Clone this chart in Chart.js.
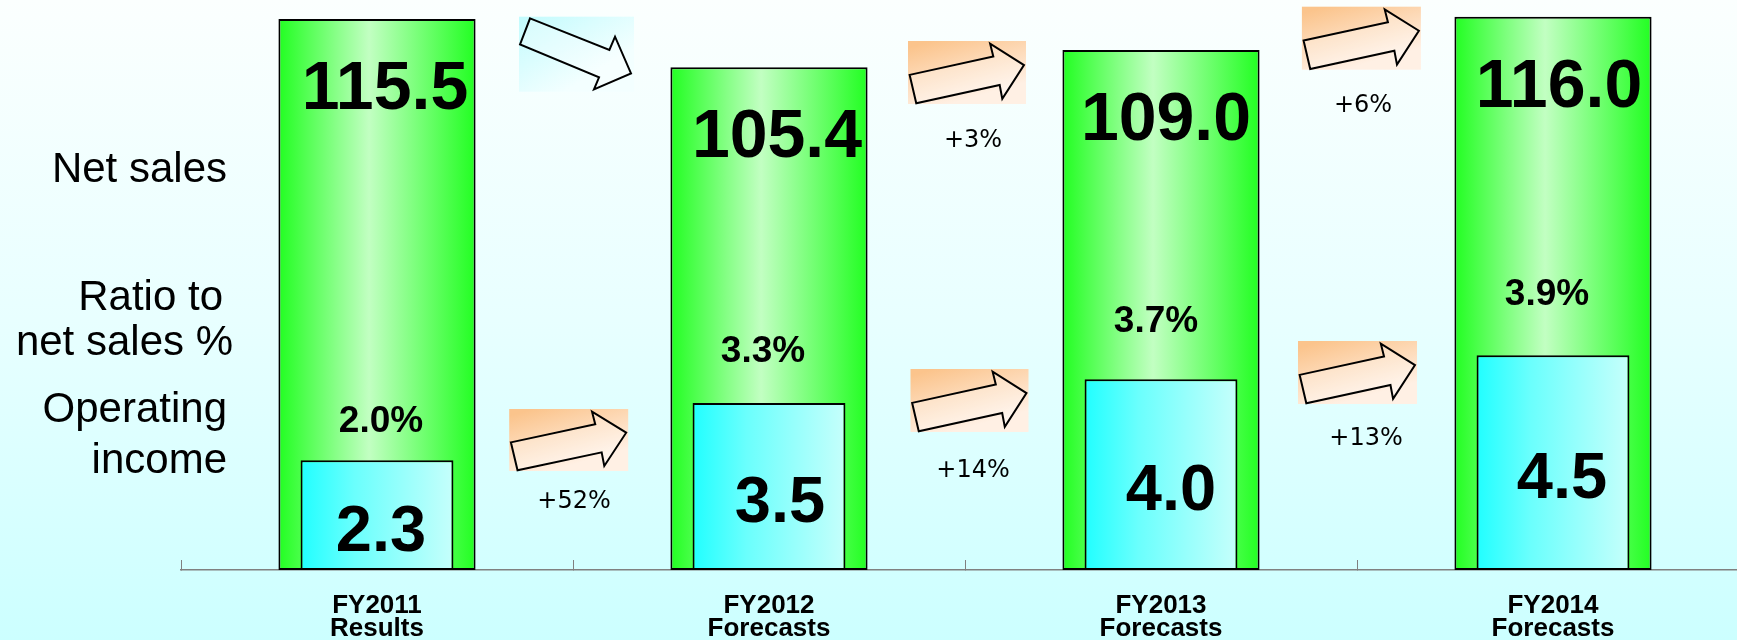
<!DOCTYPE html>
<html><head><meta charset="utf-8">
<script src="https://cdn.jsdelivr.net/npm/chart.js@4/dist/chart.umd.min.js"></script>
<style>
html,body{margin:0;padding:0;width:1737px;height:640px;overflow:hidden;}
body{background:linear-gradient(to bottom,#fbfffe 0%,#e8ffff 50%,#ccffff 100%);}
#wrap{position:absolute;left:0;top:0;width:1750px;height:640px;}
</style></head><body>
<div id="wrap"><canvas id="c" width="1750" height="640"></canvas></div>
<script>
// ---------- data ----------
const categories = [['FY2011','Results'],['FY2012','Forecasts'],['FY2013','Forecasts'],['FY2014','Forecasts']];
const netSales = [115.5, 105.4, 109.0, 116.0];
const operatingIncome = [2.3, 3.5, 4.0, 4.5];
const ratioLabels = ['2.0%', '3.3%', '3.7%', '3.9%'];
const salesChangeLabels = ['', '+3%', '+6%'];
const incomeChangeLabels = ['+52%', '+14%', '+13%'];
const salesArrowKinds = ['down', 'up', 'up'];
const rowLabels = ['Net sales', 'Ratio to', 'net sales %', 'Operating', 'income'];

// ---------- layout / style (not data) ----------
const FONT = '"Liberation Sans", Arial, sans-serif';
const LAYOUT = {
  rowLabels: [{x:227,y:182.3},{x:223,y:310},{x:233,y:355},{x:227,y:421.7},{x:227,y:473.3}],
  salesValue: {dx:[8,8,5,6], dy:90},
  incomeValue: {dx:[4,11,10,9], dy:35.5},
  ratio: {dx:[4,-6,-5,-6], y:[432,362,332,305]},
  salesArrows: [{dx:3.5,y:16.7,w:115,h:75},{dx:2,y:41,w:118,h:63},{dx:4.4,y:6.7,w:119,h:63}],
  salesChange: [{dx:0,y:0},{dx:8,y:146.7},{dx:6,y:111.7}],
  incomeArrows: [{dx:-4.3,y:409,w:119,h:62},{dx:4.5,y:369,w:118,h:63},{dx:0.5,y:341,w:119,h:63}],
  incomeChange: [{dx:1,y:508.3},{dx:8,y:476.7},{dx:9,y:445}]
};
const ARROW_SHAPES = {
  up:   [[0.014,0.538],[0.723,0.247],[0.696,0.043],[0.983,0.382],[0.799,0.919],[0.777,0.699],[0.070,0.989]],
  down: [[0.096,0.022],[0.786,0.444],[0.835,0.267],[0.974,0.756],[0.652,0.969],[0.696,0.809],[0.009,0.369]]
};
const SALES_PCT = 0.503, INCOME_PCT = 0.39;

function barGradient(c, pct, stops) {
  const chart = c.chart, xs = chart.scales && chart.scales.x;
  if (!xs || !chart.chartArea || c.dataIndex === undefined) return stops[0][1];
  const cx = xs.getPixelForValue(c.dataIndex);
  const w = xs.width / categories.length * pct;
  const g = chart.ctx.createLinearGradient(cx - w/2, 0, cx + w/2, 0);
  stops.forEach(s => g.addColorStop(s[0], s[1]));
  return g;
}

const overlay = {
  id: 'overlay',
  afterDatasetsDraw(chart) {
    const ctx = chart.ctx;
    const sMeta = chart.getDatasetMeta(1), iMeta = chart.getDatasetMeta(0);
    ctx.save();
    ctx.fillStyle = '#000';
    ctx.textAlign = 'center';
    ctx.textBaseline = 'alphabetic';
    ctx.font = 'bold 68px ' + FONT;
    sMeta.data.forEach((b, i) => {
      ctx.fillText(netSales[i].toFixed(1), b.x + LAYOUT.salesValue.dx[i], b.y + LAYOUT.salesValue.dy);
    });
    ctx.font = 'bold 65px ' + FONT;
    iMeta.data.forEach((b, i) => {
      ctx.fillText(operatingIncome[i].toFixed(1), b.x + LAYOUT.incomeValue.dx[i], (b.y + b.base)/2 + LAYOUT.incomeValue.dy);
    });
    ctx.font = 'bold 37px ' + FONT;
    sMeta.data.forEach((b, i) => {
      ctx.fillText(ratioLabels[i], b.x + LAYOUT.ratio.dx[i], LAYOUT.ratio.y[i]);
    });
    ctx.restore();
  },
  afterDraw(chart) {
    const ctx = chart.ctx, xs = chart.scales.x;
    ctx.save();
    ctx.fillStyle = '#000';
    ctx.textAlign = 'right';
    ctx.textBaseline = 'alphabetic';
    ctx.font = '42px ' + FONT;
    rowLabels.forEach((t, i) => ctx.fillText(t, LAYOUT.rowLabels[i].x, LAYOUT.rowLabels[i].y));

    const boundary = i => (xs.getPixelForValue(i) + xs.getPixelForValue(i + 1)) / 2;
    function drawArrow(kind, box, cx) {
      const x0 = cx - box.w/2, y0 = box.y;
      let g;
      if (kind === 'down') {
        g = ctx.createLinearGradient(x0, y0, x0 + box.w*0.4, y0 + box.h);
        g.addColorStop(0, '#c2fbfd'); g.addColorStop(1, '#f3ffff');
      } else {
        g = ctx.createLinearGradient(x0 + box.w*0.2, y0, x0 + box.w*0.35, y0 + box.h);
        g.addColorStop(0, '#fbc48c'); g.addColorStop(1, '#fff0e4');
      }
      ctx.fillStyle = g;
      ctx.fillRect(x0, y0, box.w, box.h);
      const pts = ARROW_SHAPES[kind];
      ctx.beginPath();
      pts.forEach((p, k) => {
        const px = x0 + p[0]*box.w, py = y0 + p[1]*box.h;
        k ? ctx.lineTo(px, py) : ctx.moveTo(px, py);
      });
      ctx.closePath();
      ctx.fillStyle = 'rgba(255,255,255,0.3)';
      ctx.fill();
      ctx.lineWidth = 2;
      ctx.lineJoin = 'miter';
      ctx.strokeStyle = '#000';
      ctx.stroke();
    }
    salesArrowKinds.forEach((k, i) => drawArrow(k, LAYOUT.salesArrows[i], boundary(i) + LAYOUT.salesArrows[i].dx));
    incomeChangeLabels.forEach((t, i) => drawArrow('up', LAYOUT.incomeArrows[i], boundary(i) + LAYOUT.incomeArrows[i].dx));

    ctx.fillStyle = '#000';
    ctx.textAlign = 'center';
    ctx.font = '24px "DejaVu Sans", sans-serif';
    salesChangeLabels.forEach((t, i) => { if (t) ctx.fillText(t, boundary(i) + LAYOUT.salesChange[i].dx, LAYOUT.salesChange[i].y); });
    incomeChangeLabels.forEach((t, i) => ctx.fillText(t, boundary(i) + LAYOUT.incomeChange[i].dx, LAYOUT.incomeChange[i].y));
    ctx.restore();
  }
};

new Chart(document.getElementById('c'), {
  type: 'bar',
  data: {
    labels: categories,
    datasets: [
      {
        label: 'Operating income',
        data: operatingIncome,
        yAxisID: 'y2',
        order: 1,
        grouped: false,
        categoryPercentage: 1,
        barPercentage: INCOME_PCT,
        borderColor: '#000',
        borderWidth: 2,
        borderSkipped: false,
        backgroundColor: c => barGradient(c, INCOME_PCT, [[0,'#20ffff'],[0.35,'#6afffd'],[1,'#c6fffb']])
      },
      {
        label: 'Net sales',
        data: netSales,
        yAxisID: 'y',
        order: 2,
        grouped: false,
        categoryPercentage: 1,
        barPercentage: SALES_PCT,
        borderColor: '#000',
        borderWidth: 2,
        borderSkipped: false,
        backgroundColor: c => barGradient(c, SALES_PCT, [[0,'#22ff22'],[0.46,'#c2ffc2'],[1,'#22ff22']])
      }
    ]
  },
  options: {
    responsive: false,
    animation: false,
    devicePixelRatio: 1,
    layout: { padding: { left: 181, right: 1, top: 0, bottom: 2 } },
    plugins: { legend: { display: false }, tooltip: { enabled: false } },
    scales: {
      x: {
        offset: true,
        afterFit: s => { s.height = 68; },
        grid: { display: true, drawOnChartArea: false, drawTicks: true, tickLength: -10, color: '#808080', lineWidth: 1, offset: true },
        border: { display: true, color: '#808080', width: 1.5 },
        ticks: { color: '#000', padding: 35, maxRotation: 0, autoSkip: false,
                 font: { family: FONT, size: 26, weight: 'bold', lineHeight: 0.87 } }
      },
      y: { display: false, min: 0, max: 119.5 },
      y2: { display: false, min: 0, max: 11.95 }
    }
  },
  plugins: [overlay]
});
</script>
</body></html>
